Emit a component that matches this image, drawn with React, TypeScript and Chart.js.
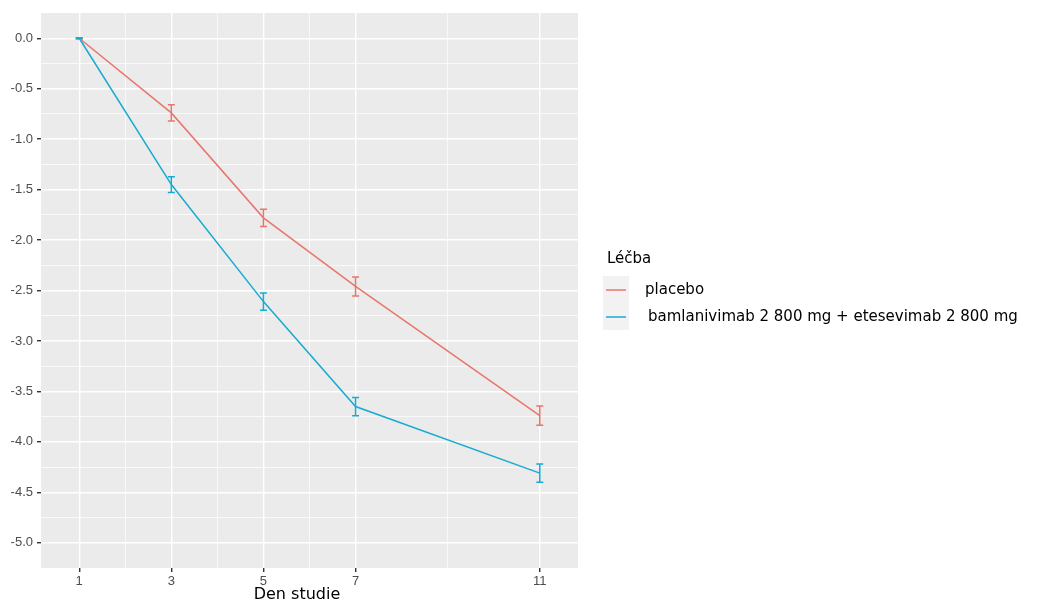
import React, { useEffect, useRef } from "react";
import { Chart, registerables } from "chart.js";

Chart.register(...registerables);

const days = [1, 3, 5, 7, 11];
const xTickLabels = [1, 3, 5, 7, 11];
const xMinorTicks = [2, 4, 6, 9];
const yTickLabels = [0, -0.5, -1, -1.5, -2, -2.5, -3, -3.5, -4, -4.5, -5];
const yMinorTicks = [-0.25, -0.75, -1.25, -1.75, -2.25, -2.75, -3.25, -3.75, -4.25, -4.75];

const placeboMean = [0, -0.74, -1.78, -2.46, -3.74];
const placeboErr = [0.005, 0.08, 0.085, 0.095, 0.095];
const comboMean = [0, -1.45, -2.61, -3.65, -4.31];
const comboErr = [0.005, 0.078, 0.085, 0.09, 0.09];

const seriesNames = ["placebo", "bamlanivimab 2 800 mg + etesevimab 2 800 mg"];
const legendTitle = "Léčba";
const xTitle = "Den studie";

const RED = "#e8766d";
const BLUE = "#18abd2";

const isIn = (arr: number[], v: number) => arr.some((a) => Math.abs(a - v) < 1e-6);

export default function App() {
  const ref = useRef<HTMLCanvasElement | null>(null);
  useEffect(() => {
    if (!ref.current) return;
    const bgPlugin = {
      id: "panelBg",
      beforeDraw(chart: any) {
        const { ctx, chartArea } = chart;
        ctx.save();
        ctx.fillStyle = "#ebebeb";
        ctx.fillRect(chartArea.left, chartArea.top, chartArea.right - chartArea.left, chartArea.bottom - chartArea.top);
        ctx.restore();
      },
    };
    const errPlugin = {
      id: "errBars",
      afterDatasetsDraw(chart: any) {
        const { ctx, scales } = chart;
        const xs = scales.x;
        const ys = scales.y;
        const draw = (means: number[], errs: number[], color: string) => {
          ctx.save();
          ctx.strokeStyle = color;
          ctx.lineWidth = 1.5;
          days.forEach((d, i) => {
            const px = xs.getPixelForValue(d);
            const y1 = ys.getPixelForValue(means[i] + errs[i]);
            const y2 = ys.getPixelForValue(means[i] - errs[i]);
            ctx.beginPath();
            ctx.moveTo(px, y1);
            ctx.lineTo(px, y2);
            ctx.moveTo(px - 3.5, y1);
            ctx.lineTo(px + 3.5, y1);
            ctx.moveTo(px - 3.5, y2);
            ctx.lineTo(px + 3.5, y2);
            ctx.stroke();
          });
          ctx.restore();
        };
        draw(placeboMean, placeboErr, RED);
        draw(comboMean, comboErr, BLUE);
      },
    };
    const legendPlugin = {
      id: "customLegend",
      afterDraw(chart: any) {
        const { ctx } = chart;
        ctx.save();
        ctx.fillStyle = "#000";
        ctx.textBaseline = "alphabetic";
        ctx.font = "15px 'DejaVu Sans'";
        ctx.fillText(legendTitle, 607, 263);
        ctx.fillStyle = "#f2f2f2";
        ctx.fillRect(603, 276, 26, 54);
        const colors = [RED, BLUE];
        const ys = [290, 317];
        const xsT = [645, 648];
        colors.forEach((c, i) => {
          ctx.strokeStyle = c;
          ctx.lineWidth = 1.5;
          ctx.beginPath();
          ctx.moveTo(606, ys[i]);
          ctx.lineTo(626, ys[i]);
          ctx.stroke();
          ctx.fillStyle = "#000";
          ctx.textBaseline = "middle";
          ctx.font = "15px 'DejaVu Sans'";
          ctx.fillText(seriesNames[i], xsT[i], ys[i]);
        });
        ctx.textAlign = "center";
        ctx.textBaseline = "alphabetic";
        ctx.font = "16px 'DejaVu Sans'";
        ctx.fillText(xTitle, 297, 599);
        ctx.restore();
      },
    };

    const chart = new Chart(ref.current, {
      type: "line",
      data: {
        datasets: [
          {
            label: seriesNames[0],
            data: days.map((d, i) => ({ x: d, y: placeboMean[i] })),
            borderColor: RED,
            borderWidth: 1.5,
            pointRadius: 0,
            tension: 0,
          },
          {
            label: seriesNames[1],
            data: days.map((d, i) => ({ x: d, y: comboMean[i] })),
            borderColor: BLUE,
            borderWidth: 1.5,
            pointRadius: 0,
            tension: 0,
          },
        ],
      },
      options: {
        responsive: false,
        animation: false,
        devicePixelRatio: 1,
        layout: { padding: { left: 0, top: 13, right: 467, bottom: 0 } },
        plugins: { legend: { display: false }, tooltip: { enabled: false } },
        scales: {
          x: {
            type: "linear",
            min: 0.17,
            max: 11.83,
            border: { display: false },
            afterBuildTicks(scale: any) {
              scale.ticks = [...xTickLabels, ...xMinorTicks].sort((a, b) => a - b).map((v) => ({ value: v }));
            },
            afterFit(scale: any) {
              scale.height = 33;
            },
            grid: {
              color: "#ffffff",
              lineWidth: (c: any) => (c.tick && isIn(xTickLabels, c.tick.value) ? 1.4 : 0.7),
              tickColor: (c: any) => (c.tick && isIn(xTickLabels, c.tick.value) ? "#333333" : "rgba(0,0,0,0)"),
              tickWidth: 1.4,
              tickLength: 4,
              drawTicks: true,
            },
            ticks: {
              autoSkip: false,
              maxRotation: 0,
              padding: 2,
              color: "#4d4d4d",
              font: { family: "'Liberation Sans'", size: 13 },
              callback: (v: any) => (isIn(xTickLabels, Number(v)) ? String(v) : ""),
            },
          },
          y: {
            type: "linear",
            min: -5.25,
            max: 0.25,
            border: { display: false },
            afterBuildTicks(scale: any) {
              scale.ticks = [...yTickLabels, ...yMinorTicks].sort((a, b) => b - a).map((v) => ({ value: v }));
            },
            afterFit(scale: any) {
              scale.width = 41;
            },
            grid: {
              color: "#ffffff",
              lineWidth: (c: any) => (c.tick && isIn(yTickLabels, c.tick.value) ? 1.4 : 0.7),
              tickColor: (c: any) => (c.tick && isIn(yTickLabels, c.tick.value) ? "#333333" : "rgba(0,0,0,0)"),
              tickWidth: 1.4,
              tickLength: 4,
              drawTicks: true,
            },
            ticks: {
              autoSkip: false,
              padding: 4,
              color: "#4d4d4d",
              font: { family: "'Liberation Sans'", size: 13 },
              callback: (v: any) => (isIn(yTickLabels, Number(v)) ? Number(v).toFixed(1) : ""),
            },
          },
        },
      },
      plugins: [bgPlugin, errPlugin, legendPlugin],
    } as any);
    return () => chart.destroy();
  }, []);
  return (
    <div style={{ position: "absolute", left: 0, top: 0, width: 1045, height: 601, background: "#fff" }}>
      <canvas ref={ref} width={1045} height={601} />
    </div>
  );
}
